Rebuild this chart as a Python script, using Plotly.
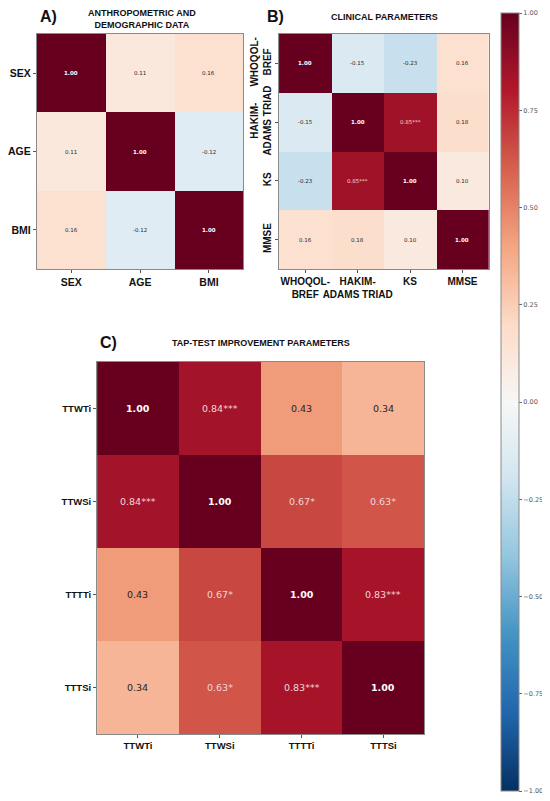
import plotly.graph_objects as go

# ---- data ----
a_labels = ["SEX", "AGE", "BMI"]
a_values = [[1.00, 0.11, 0.16],
            [0.11, 1.00, -0.12],
            [0.16, -0.12, 1.00]]
a_stars = [["", "", ""], ["", "", ""], ["", "", ""]]

b_labels = ["WHOQOL-<br>BREF", "HAKIM-<br>ADAMS TRIAD", "KS", "MMSE"]
b_values = [[1.00, -0.15, -0.23, 0.16],
            [-0.15, 1.00, 0.85, 0.18],
            [-0.23, 0.85, 1.00, 0.10],
            [0.16, 0.18, 0.10, 1.00]]
b_stars = [["", "", "", ""],
           ["", "", "***", ""],
           ["", "***", "", ""],
           ["", "", "", ""]]

c_labels = ["TTWTi", "TTWSi", "TTTTi", "TTTSi"]
c_values = [[1.00, 0.84, 0.43, 0.34],
            [0.84, 1.00, 0.67, 0.63],
            [0.43, 0.67, 1.00, 0.83],
            [0.34, 0.63, 0.83, 1.00]]
c_stars = [["", "***", "", ""],
           ["***", "", "*", "*"],
           ["", "*", "", "***"],
           ["", "*", "***", ""]]

cbar_ticks = [-1.0, -0.75, -0.5, -0.25, 0.0, 0.25, 0.5, 0.75, 1.0]

rdbu = ["#053061", "#2166ac", "#4393c3", "#92c5de", "#d1e5f0", "#f7f7f7",
        "#fddbc7", "#f4a582", "#d6604d", "#b2182b", "#67001f"]
colorscale = [[i / (len(rdbu) - 1), c] for i, c in enumerate(rdbu)]

# page body has an 8px margin: figure occupies window pixels 8..550 / 8..801
OFF = 8
W, H = 550 - OFF, 801 - OFF
def px_x(p): return (p - OFF) / W
def px_y(p): return 1 - (p - OFF) / H

fig = go.Figure()

panels = [
    ("x", "y", a_labels, a_values, a_stars, 5.5),
    ("x2", "y2", b_labels, b_values, b_stars, 5.5),
    ("x3", "y3", c_labels, c_values, c_stars, 9.5),
]

for xa, ya, labels, vals, stars, fs in panels:
    fig.add_trace(go.Heatmap(z=vals, x=labels, y=labels, coloraxis="coloraxis",
                             xaxis=xa, yaxis=ya, xgap=0, ygap=0, hoverinfo="skip"))
    for i, row in enumerate(vals):
        for j, v in enumerate(row):
            txt = f"{v:.2f}{stars[i][j]}"
            if i == j:
                txt = f"<b>{txt}</b>"
            col = "#ffffff" if v >= 0.6 else "#262626"
            if v >= 0.6 and i != j:
                col = "#f2d6d6"
            fig.add_annotation(x=labels[j], y=labels[i], xref=xa, yref=ya, text=txt,
                               showarrow=False,
                               font=dict(family="DejaVu Sans", size=fs, color=col))

axis_common = dict(showline=True, mirror=True, linecolor="#8a8a8a", linewidth=1,
                   ticks="outside", ticklen=3, tickcolor="#555", showgrid=False,
                   zeroline=False)
bold_a = dict(family="Liberation Sans", size=10.5, color="#111", weight="bold")
bold_b = dict(family="Liberation Sans", size=10, color="#111", weight="bold")
c_font = dict(family="Liberation Sans", size=9.5, color="#111", weight="bold")
fig.update_layout(
    width=W, height=H, margin=dict(l=0, r=0, t=0, b=0),
    paper_bgcolor="white", plot_bgcolor="white", showlegend=False,
    coloraxis=dict(colorscale=colorscale, cmin=-1, cmax=1,
                   colorbar=dict(x=px_x(500), xanchor="left", y=px_y(13), yanchor="top",
                                 len=778, lenmode="pixels", thickness=18,
                                 xpad=0, ypad=0,
                                 outlinecolor="#8a8a8a", outlinewidth=1,
                                 tickvals=cbar_ticks, tickformat=".2f",
                                 ticks="outside", ticklen=3, tickcolor="#666",
                                 tickfont=dict(family="DejaVu Sans", size=6.5, color="#555"))),
    xaxis=dict(domain=[px_x(31), px_x(240)], anchor="y", tickfont=bold_a, tickangle=0,
               **axis_common),
    yaxis=dict(domain=[px_y(269), px_y(34)], anchor="x", autorange="reversed",
               tickfont=bold_a, **axis_common),
    xaxis2=dict(domain=[px_x(276), px_x(488)], anchor="y2", tickfont=bold_b, tickangle=0,
                **axis_common),
    yaxis2=dict(domain=[px_y(269), px_y(34)], anchor="x2", autorange="reversed",
                tickangle=-90, tickfont=bold_b, **axis_common),
    xaxis3=dict(domain=[px_x(92), px_x(423)], anchor="y3", tickangle=0,
                tickfont=c_font, **axis_common),
    yaxis3=dict(domain=[px_y(734), px_y(362)], anchor="x3", autorange="reversed",
                tickfont=c_font, **axis_common),
)

titles = [
    ("A)", 32, 17, 16, "left"),
    ("ANTHROPOMETRIC AND<br>DEMOGRAPHIC DATA", 137, 19, 9, "center"),
    ("B)", 262, 17, 16, "left"),
    ("CLINICAL PARAMETERS", 383, 17, 9, "center"),
    ("C)", 93, 343, 16, "left"),
    ("TAP-TEST IMPROVEMENT PARAMETERS", 258, 343, 9, "center"),
]
for text, x, y, size, anchor in titles:
    fig.add_annotation(x=px_x(x), y=px_y(y), xref="paper", yref="paper", text=f"<b>{text}</b>",
                       showarrow=False, xanchor=anchor, yanchor="middle",
                       font=dict(family="Liberation Sans", size=size, color="#111"))

fig.write_html("out.html")
